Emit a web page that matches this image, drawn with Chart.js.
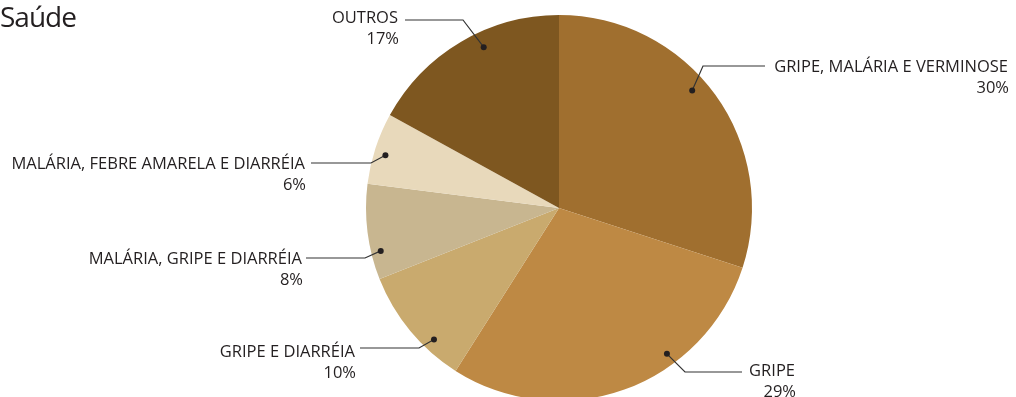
<!DOCTYPE html>
<html>
<head>
<meta charset="utf-8">
<script src="https://cdn.jsdelivr.net/npm/chart.js@4"></script>
<style>
  html, body { margin: 0; padding: 0; background: #fff; overflow: hidden; }
  #wrap { position: relative; width: 1016px; height: 397px; overflow: hidden; }
  #title { position: absolute; left: 0; top: -3px; font: 28px "Open Sans", sans-serif; color: #231f20; letter-spacing: -1px; }
  canvas { position: absolute; left: 0; top: 0; }
</style>
</head>
<body>
<div id="wrap">
  <canvas id="saudeChart" width="1016" height="410"></canvas>
  <div id="title">Saúde</div>
</div>
<script>
const labels = ["GRIPE, MALÁRIA E VERMINOSE", "GRIPE", "GRIPE E DIARRÉIA", "MALÁRIA, GRIPE E DIARRÉIA", "MALÁRIA, FEBRE AMARELA E DIARRÉIA", "OUTROS"];
const values = [30, 29, 10, 8, 6, 17];
const colors = ['#a06f2f', '#be8944', '#c9aa6e', '#c8b690', '#e8d9bb', '#7e5720'];

// leader line layout per slice: where along the slice the dot sits (t), its radius share (rf),
// the elbow point, the end of the horizontal run, and the right edge of the text block
const callouts = [
  { t: 0.45, rf: 0.92, elbow: [703, 66], end: 765, tx: 1008, ty: 67 },
  { t: 0.34, rf: 0.94, elbow: [685, 372], end: 742, tx: 795, ty: 371 },
  { t: 0.31, rf: 0.94, elbow: [419, 348], end: 360, tx: 355, ty: 352 },
  { t: 0.28, rf: 0.95, elbow: [365, 258], end: 306, tx: 302, ty: 259 },
  { t: 0.45, rf: 0.94, elbow: [371, 163], end: 311, tx: 305, ty: 164 },
  { t: 0.59, rf: 0.92, elbow: [463, 20], end: 405, tx: 398, ty: 18 }
];

const calloutPlugin = {
  id: 'callouts',
  afterDatasetsDraw(chart) {
    const ctx = chart.ctx;
    const arcs = chart.getDatasetMeta(0).data;
    ctx.save();
    arcs.forEach((arc, i) => {
      const c = callouts[i];
      const a = arc.startAngle + c.t * (arc.endAngle - arc.startAngle);
      const r = arc.outerRadius * c.rf;
      const dx = arc.x + Math.cos(a) * r;
      const dy = arc.y + Math.sin(a) * r;
      ctx.strokeStyle = '#333';
      ctx.lineWidth = 1.2;
      ctx.beginPath();
      ctx.moveTo(dx, dy);
      ctx.lineTo(c.elbow[0], c.elbow[1]);
      ctx.lineTo(c.end, c.elbow[1]);
      ctx.stroke();
      ctx.fillStyle = '#231f20';
      ctx.beginPath();
      ctx.arc(dx, dy, 3, 0, Math.PI * 2);
      ctx.fill();
      ctx.font = '16.5px "Open Sans", sans-serif';
      ctx.textAlign = 'right';
      ctx.textBaseline = 'middle';
      ctx.fillText(labels[i], c.tx, c.ty);
      ctx.fillText(values[i] + '%', c.tx + 1, c.ty + 21);
    });
    ctx.restore();
  }
};

new Chart(document.getElementById('saudeChart'), {
  type: 'pie',
  data: { labels, datasets: [{ data: values, backgroundColor: colors, borderWidth: 0 }] },
  options: {
    responsive: false,
    animation: false,
    layout: { padding: { left: 366, right: 264, top: 15, bottom: 9 } },
    plugins: { legend: { display: false }, tooltip: { enabled: false } }
  },
  plugins: [calloutPlugin]
});
</script>
</body>
</html>
